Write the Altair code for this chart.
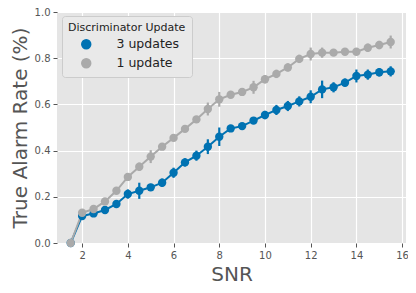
import altair as alt
import pandas as pd

snr = [1.5, 2.0, 2.5, 3.0, 3.5, 4.0, 4.5, 5.0, 5.5, 6.0, 6.5, 7.0, 7.5, 8.0, 8.5,
       9.0, 9.5, 10.0, 10.5, 11.0, 11.5, 12.0, 12.5, 13.0, 13.5, 14.0, 14.5, 15.0, 15.5]

rate_3 = [0.0, 0.117, 0.128, 0.143, 0.169, 0.212, 0.226, 0.241, 0.261, 0.304, 0.349, 0.378,
          0.417, 0.46, 0.496, 0.506, 0.53, 0.554, 0.576, 0.593, 0.613, 0.633, 0.665, 0.674,
          0.694, 0.723, 0.729, 0.739, 0.743]
err_3 = [0.005, 0.012, 0.01, 0.012, 0.012, 0.02, 0.035, 0.015, 0.018, 0.022, 0.018, 0.022,
         0.032, 0.04, 0.012, 0.012, 0.012, 0.018, 0.022, 0.022, 0.022, 0.028, 0.038, 0.022,
         0.018, 0.028, 0.022, 0.018, 0.022]

rate_1 = [0.0, 0.131, 0.147, 0.18, 0.226, 0.286, 0.33, 0.374, 0.417, 0.455, 0.494, 0.535,
          0.58, 0.622, 0.642, 0.654, 0.674, 0.709, 0.732, 0.76, 0.797, 0.818, 0.824, 0.824,
          0.828, 0.828, 0.845, 0.857, 0.87]
err_1 = [0.005, 0.012, 0.01, 0.012, 0.012, 0.012, 0.018, 0.028, 0.012, 0.012, 0.012, 0.012,
         0.028, 0.032, 0.012, 0.012, 0.028, 0.018, 0.018, 0.018, 0.018, 0.028, 0.022, 0.012,
         0.012, 0.012, 0.018, 0.018, 0.028]

series_names = ["3 updates", "1 update"]
series_colors = ["#0072B2", "#AAAAAA"]
x_ticks = [2, 4, 6, 8, 10, 12, 14, 16]
y_ticks = [0.0, 0.2, 0.4, 0.6, 0.8, 1.0]

rows = []
for name, rates, errs, order in [(series_names[0], rate_3, err_3, 0),
                                 (series_names[1], rate_1, err_1, 1)]:
    for s, r, e in zip(snr, rates, errs):
        rows.append({"SNR": s, "rate": r, "lo": r - e, "hi": r + e,
                     "series": name, "ord": order})
df = pd.DataFrame(rows)

font = "DejaVu Sans"
xscale = alt.Scale(domain=[0.9, 16.17], nice=False, zero=False)
yscale = alt.Scale(domain=[0, 1], nice=False)
cscale = alt.Scale(domain=series_names, range=series_colors)
color = alt.Color("series:N", scale=cscale,
                  legend=alt.Legend(title="Discriminator Update", orient="none",
                                    legendX=5, legendY=4, symbolType="circle",
                                    symbolSize=80, symbolOffset=12,
                                    titleFontSize=11, labelFontSize=12.5,
                                    titleFont=font, labelFont=font,
                                    titleColor="#222", labelColor="#222",
                                    titleFontWeight="normal",
                                    fillColor="#E9E9E9", strokeColor="#CCCCCC",
                                    cornerRadius=3, padding=6, rowPadding=3,
                                    titlePadding=5, labelOffset=24,
                                    titleLimit=200))

base = alt.Chart(df)

x = alt.X("SNR:Q", scale=xscale,
          axis=alt.Axis(title="SNR", values=x_ticks, format="d", grid=True))
y = alt.Y("rate:Q", scale=yscale,
          axis=alt.Axis(title="True Alarm Rate (%)", values=y_ticks, format=".1f",
                        grid=True))

lines = base.mark_line(strokeWidth=2).encode(x=x, y=y, color=color,
                                             detail="series:N")
bars = base.mark_rule(strokeWidth=2.2).encode(
    x="SNR:Q", y="lo:Q", y2="hi:Q",
    color=alt.Color("series:N", scale=cscale, legend=None))
pts = base.mark_circle(size=70, opacity=1).encode(
    x="SNR:Q", y="rate:Q",
    color=alt.Color("series:N", scale=cscale, legend=None))

chart = alt.layer(lines, bars, pts).properties(
    width=349, height=231,
    autosize=alt.AutoSizeParams(type="none"),
    padding={"left": 49, "top": 4, "right": 2, "bottom": 42},
).configure_view(fill="#E5E5E5", stroke=None).configure_axis(
    gridColor="#FFFFFF", gridWidth=1.2, domain=False,
    tickColor="#555555", tickSize=4, tickWidth=1,
    labelColor="#555555", labelFontSize=10, labelFont=font,
    titleColor="#555555", titleFont=font, titleFontSize=20,
    titleFontWeight="normal", labelPadding=3,
).configure_axisY(titlePadding=4).configure_axisX(titlePadding=4)

chart.save("out.html", embed_options={"renderer": "svg", "actions": False})
